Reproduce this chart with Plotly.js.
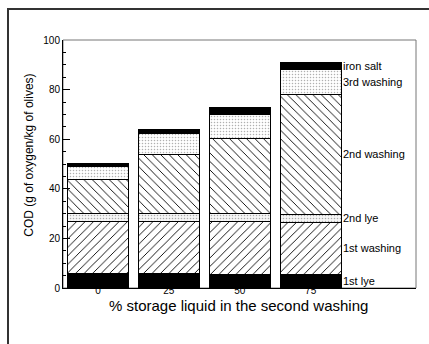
<!DOCTYPE html>
<html>
<head>
<meta charset="utf-8">
<script src="https://cdn.plot.ly/plotly-3.0.1.min.js"></script>
<style>
  html, body { margin: 0; padding: 0; background: #fff; }
  #wrap { position: relative; width: 429px; height: 344px; overflow: hidden; }
  #chart { position: absolute; left: 0; top: 0; width: 429px; height: 344px; }
  #frame { position: absolute; left: 7px; top: 8px; width: 500px; height: 400px;
           border-left: 2px solid #333; border-top: 2px solid #333; pointer-events: none; }
</style>
</head>
<body>
<div id="wrap">
  <div id="chart"></div>
  <div id="frame"></div>
</div>
<script>
// ---- data ----
const categories = ['0', '25', '50', '75'];
const firstLye      = [5.9, 5.9, 5.6, 5.5];
const firstWashing  = [21.1, 21.1, 21.1, 21.1];
const secondLye     = [3.0, 3.0, 3.3, 3.2];
const secondWashing = [13.7, 23.8, 30.1, 48.2];
const thirdWashing  = [5.1, 8.3, 9.7, 10.3];
const ironSalt      = [1.5, 2.0, 2.8, 2.6];
const seriesNames = ['1st lye', '1st washing', '2nd lye', '2nd washing', '3rd washing', 'iron salt'];
const yTickVals = [0, 20, 40, 60, 80, 100];
const xTitle = '% storage liquid in the second washing';
const yTitle = 'COD (g of oxygen/kg of olives)';

const FONT = 'Liberation Sans, Arial, Helvetica, sans-serif';
const seriesValues = [firstLye, firstWashing, secondLye, secondWashing, thirdWashing, ironSalt];
const styles = [
  {color: '#000'},
  {color: '#fff', pattern: {shape: '/', fgcolor: '#000', bgcolor: '#fff', size: 6, solidity: 0.15}},
  {color: '#fff', pattern: {shape: '.', fgcolor: '#aaa', bgcolor: '#f6f6f6', size: 3, solidity: 0.2}},
  {color: '#fff', pattern: {shape: '\\', fgcolor: '#000', bgcolor: '#fff', size: 6, solidity: 0.15}},
  {color: '#fff', pattern: {shape: '.', fgcolor: '#b0b0b0', bgcolor: '#fff', size: 3, solidity: 0.2}},
  {color: '#000'}
];
const BAR_W = 0.86;

const traces = seriesValues.map((vals, i) => ({
  type: 'bar',
  name: seriesNames[i],
  x: categories,
  y: vals,
  width: BAR_W,
  marker: Object.assign({line: {color: '#000', width: 1}}, styles[i]),
  hoverinfo: 'name+y'
}));

// labels next to the last bar, at the middle of each segment
const last = categories.length - 1;
let cum = 0;
const annotations = seriesValues.map((vals, i) => {
  const mid = cum + vals[last] / 2;
  cum += vals[last];
  return {
    x: last + BAR_W / 2, y: mid, xref: 'x', yref: 'y',
    text: seriesNames[i], showarrow: false,
    xanchor: 'left', yanchor: 'middle',
    font: {family: FONT, size: 11, color: '#000'}
  };
});
// axis titles
annotations.push({
  xref: 'paper', yref: 'paper', x: 0.4965, y: -0.0724,
  text: xTitle, showarrow: false, xanchor: 'center', yanchor: 'middle',
  font: {family: FONT, size: 15, color: '#000'}
});
annotations.push({
  xref: 'paper', yref: 'paper', x: -0.095, y: 0.535, textangle: -90,
  text: yTitle, showarrow: false, xanchor: 'center', yanchor: 'middle',
  font: {family: FONT, size: 12, color: '#000'}
});

const layout = {
  width: 429, height: 344,
  margin: {l: 62.5, r: 13, t: 39.5, b: 56},
  paper_bgcolor: 'rgba(0,0,0,0)',
  plot_bgcolor: '#fff',
  barmode: 'stack',
  showlegend: false,
  font: {family: FONT, color: '#000'},
  xaxis: {
    type: 'category',
    range: [-0.493, 4.486],
    showline: true, linecolor: '#000', linewidth: 1,
    ticks: '', showgrid: false, zeroline: false,
    ticklabelstandoff: -7,
    tickfont: {size: 10, family: FONT}
  },
  yaxis: {
    range: [0, 100],
    tickvals: yTickVals,
    showline: true, linecolor: '#000', linewidth: 1,
    ticks: 'inside', ticklen: 7, tickcolor: '#000',
    minor: {dtick: 5, ticks: 'inside', ticklen: 3, tickcolor: '#000'},
    showgrid: false, zeroline: false,
    tickfont: {size: 10, family: FONT}
  },
  shapes: [{
    type: 'rect', xref: 'paper', yref: 'paper', x0: 0, x1: 1, y0: 0, y1: 1,
    line: {color: '#777', width: 1}, layer: 'below'
  }],
  annotations: annotations
};

Plotly.newPlot('chart', traces, layout, {displayModeBar: false, staticPlot: true});
</script>
</body>
</html>
